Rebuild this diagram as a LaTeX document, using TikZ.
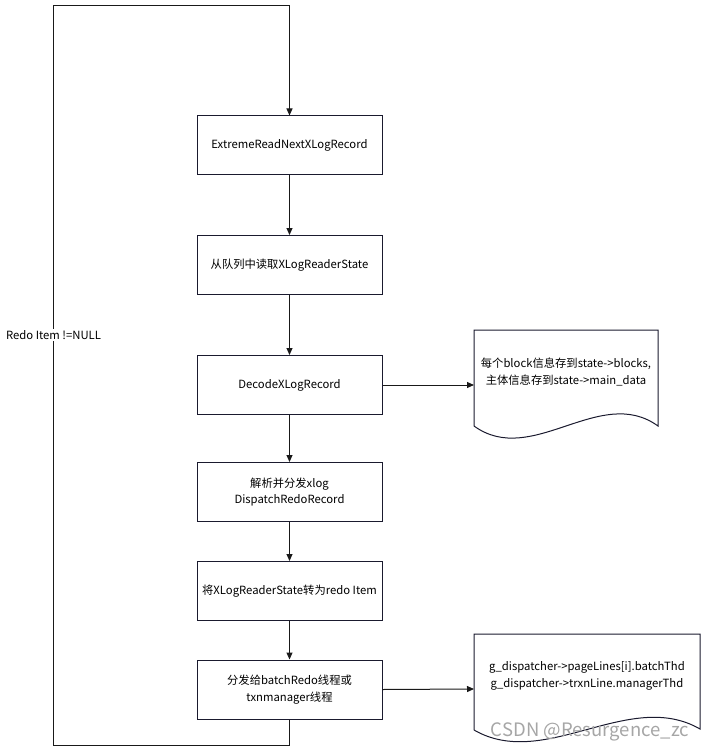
\documentclass[tikz,border=0pt]{standalone}
\usepackage{fontspec}
\setmainfont{Noto Sans CJK SC}
\usetikzlibrary{arrows.meta}
\definecolor{edge}{HTML}{1A1A2E}
\tikzset{
  proc/.style={draw=edge, line width=1pt, minimum width=185pt, minimum height=59pt, align=center, font=\fontsize{11.3}{16.5}\selectfont, inner sep=0pt},
  conn/.style={draw=black!90, line width=1pt, -{Triangle[length=7pt,width=6pt]}},
  plain/.style={draw=black!90, line width=1pt},
  doctext/.style={align=center, font=\fontsize{11.3}{16.5}\selectfont},
}
\begin{document}
\begin{tikzpicture}[x=1pt,y=-1pt]
\useasboundingbox (0,0) rectangle (702,751);
\node[proc] (b1) at (289.5,145.5) {ExtremeReadNextXLogRecord};
\node[proc] (b2) at (289.5,265) {从队列中读取XLogReaderState};
\node[proc] (b3) at (289.5,385) {DecodeXLogRecord};
\node[proc] (b4) at (289.5,492) {解析并分发xlog\\DispatchRedoRecord};
\node[proc] (b5) at (289.5,591) {将XLogReaderState转为redo Item};
\node[proc] (b6) at (289.5,689.5) {分发给batchRedo线程或\\txnmanager线程};
% documents
\draw[edge, line width=1pt] (474,426) -- (474,330) -- (658,330) -- (658,426)
  .. controls (600,384) and (532,468) .. (474,426);
\coordinate (d1) at (474,385);
\node[doctext] (t1) at (566,372) {每个block信息存到state->blocks,\\主体信息存到state->main\_data};
\draw[edge, line width=1pt] (474,730) -- (474,634) -- (700,634) -- (700,729)
  .. controls (629,688) and (545,771) .. (474,730);
\coordinate (d2) at (474,689);
\node[doctext] (t2) at (587,676) {g\_dispatcher->pageLines[i].batchThd\\g\_dispatcher->trxnLine.managerThd};
% flow
\draw[conn] (b1) -- (b2);
\draw[conn] (b2) -- (b3);
\draw[conn] (b3) -- (b4);
\draw[conn] (b4) -- (b5);
\draw[conn] (b5) -- (b6);
\draw[conn] (b3.east) -- (d1);
\draw[conn] (b6.east) -- (d2);
\coordinate (c1) at (289.5,745.5);
\coordinate (c2) at (53.5,745.5);
\coordinate (c3) at (53.5,5.5);
\coordinate (c4) at (289.5,5.5);
\draw[conn] (b6.south) -- (c1) -- (c2) -- (c3) -- (c4) -- (b1.north);
\node[fill=white, inner sep=1pt, font=\fontsize{11.3}{13}\selectfont] (lbl) at (53.5,335) {Redo Item !=NULL};
\node[text=black!35, font=\fontsize{18.5}{20}\selectfont] (wm) at (590,732) {CSDN @Resurgence\_zc};
\end{tikzpicture}
\end{document}
